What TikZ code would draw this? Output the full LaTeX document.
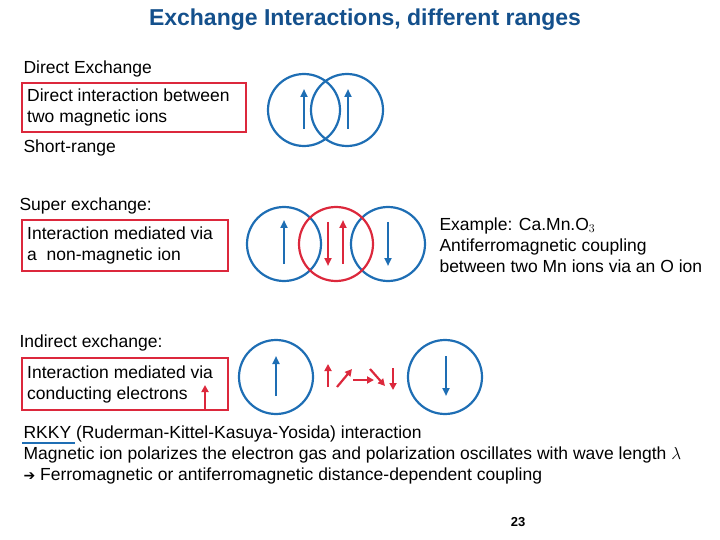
\documentclass[tikz,border=0pt]{standalone}
\usepackage{fontspec}
\setmainfont{Liberation Sans}
\newfontfamily\symfont{DejaVu Sans}
\usetikzlibrary{arrows.meta}
\definecolor{ionblue}{RGB}{30,110,180}
\definecolor{ionred}{RGB}{220,40,60}
\definecolor{titleblue}{RGB}{20,80,140}
\tikzstyle{ion}=[draw=ionblue, line width=2.2pt]
\tikzstyle{spin}=[-{Triangle[length=8pt,width=7pt]}, line width=2pt]
\tikzstyle{small}=[-{Triangle[length=7pt,width=7pt]}, line width=2.2pt, ionred]
\tikzstyle{box}=[draw=ionred, line width=2pt]
\tikzstyle{txt}=[anchor=west, align=left, font=\fontsize{17.5}{21}\selectfont]

\begin{document}
\begin{tikzpicture}[x=1pt, y=-1pt]
        \useasboundingbox (0,0) rectangle (720,540);

        % 見出し
        \node (title) at (365,20) [font=\bfseries\fontsize{23}{27}\selectfont, text=titleblue]{Exchange Interactions, different ranges};

        % Direct exchange
        \node (dl) at (20,69) [txt]{Direct Exchange};
        \draw[box] (22,83) rectangle (246,132);
        \node (db) at (25,107.5) [txt, inner sep=2pt]{Direct interaction between\\two magnetic ions};
        \node (ds) at (20,148) [txt]{Short-range};
        \draw[ion] (304,110) circle (36);
        \draw[ion] (347,110) circle (36);
        \draw[spin, ionblue] (304,129) -- (304,89);
        \draw[spin, ionblue] (348,129) -- (348,89);

        % Super exchange
        \node (sl) at (16,206) [txt]{Super exchange:};
        \draw[box] (22,220) rectangle (228,271);
        \node (sb) at (25,245.5) [txt, inner sep=2pt]{Interaction mediated via\\a~ non-magnetic ion};
        \draw[ion] (284,244) circle (37);
        \draw[ion] (388,244) circle (37);
        \draw[ion, draw=ionred] (336,244) circle (37);
        \draw[spin, ionblue] (284,264) -- (284,220);
        \draw[spin, ionred] (328,222) -- (328,266);
        \draw[spin, ionred] (343,264) -- (343,220);
        \draw[spin, ionblue] (388,222) -- (388,266);
        \node (ex) at (436,245) [txt]{Example: Ca.Mn.O$_3$\\Antiferromagnetic coupling\\between two Mn ions via an O ion};

        % Indirect exchange
        \node (il) at (16,343) [txt]{Indirect exchange:};
        \draw[box] (22,358) rectangle (228,410);
        \node (ib) at (25,384) [txt, inner sep=2pt]{Interaction mediated via\\conducting electrons};
        \draw[ion] (276,377) circle (37);
        \draw[ion] (445,377) circle (37);
        \draw[spin, ionblue] (276,396) -- (276,356);
        \draw[spin, ionblue] (446,356) -- (446,396);
        \draw[small] (205,409) -- (205,385);
        \draw[small] (328,387) -- (328,364);
        \draw[small] (337,387) -- (352,369);
        \draw[small] (353,380) -- (374,380);
        \draw[small] (370,369) -- (385,386);
        \draw[small] (393,368) -- (393,390);

        % RKKY
        \node (rk) at (20,455) [txt]{RKKY (Ruderman-Kittel-Kasuya-Yosida) interaction\\Magnetic ion polarizes the electron gas and polarization oscillates with wave length $\lambda$\\{\symfont\fontsize{14}{21}\selectfont ➔} Ferromagnetic or antiferromagnetic distance-dependent coupling};
        \draw[ionblue, line width=2pt] (22,443) -- (75,443);

        \node (pg) at (518,522) [font=\bfseries\fontsize{13}{15}\selectfont]{23};
\end{tikzpicture}
\end{document}
